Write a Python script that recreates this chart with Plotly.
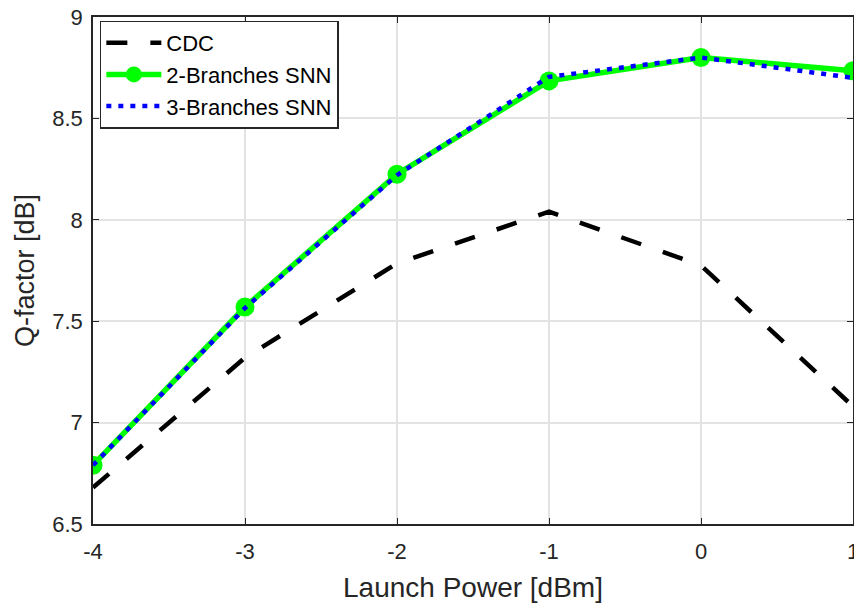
import plotly.graph_objects as go

# Launch power sweep and Q-factor results
launch_power = [-4, -3, -2, -1, 0, 1]
q_cdc = [6.68, 7.32, 7.785, 8.04, 7.775, 7.08]
q_snn2 = [6.79, 7.57, 8.225, 8.685, 8.80, 8.735]
q_snn3 = [6.79, 7.565, 8.22, 8.705, 8.80, 8.70]

x_ticks = [-4, -3, -2, -1, 0, 1]
y_ticks = [6.5, 7, 7.5, 8, 8.5, 9]

FONT = "Liberation Sans, Arial, sans-serif"
TXT = "#262626"

fig = go.Figure()
fig.add_trace(go.Scatter(
    x=launch_power, y=q_cdc, mode="lines", name="CDC",
    line=dict(color="black", width=4.5, dash="21px,23px"),
))
fig.add_trace(go.Scatter(
    x=launch_power, y=q_snn2, mode="lines+markers", name="2-Branches SNN",
    line=dict(color="#00ff00", width=5.5),
    marker=dict(color="#00ff00", size=19, symbol="circle"),
))
fig.add_trace(go.Scatter(
    x=launch_power, y=q_snn3, mode="lines", name="3-Branches SNN",
    line=dict(color="#0000ff", width=4.5, dash="5px,7px"),
))

axis_common = dict(
    showline=True, linecolor=TXT, linewidth=1.5, mirror="ticks",
    ticks="inside", ticklen=6, tickcolor=TXT, tickwidth=1.2,
    showgrid=True, gridcolor="#e3e3e3", gridwidth=1.5,
    zeroline=False, automargin=False,
    tickfont=dict(family=FONT, size=22, color=TXT),
)

fig.update_xaxes(
    range=[-4, 1], tickvals=x_ticks, ticktext=[str(v) for v in x_ticks],
    ticklabeloverflow="allow", ticklabelstandoff=7,
    title=dict(text="Launch Power [dBm]", standoff=14,
               font=dict(family=FONT, size=28, color=TXT)),
    **axis_common,
)
fig.update_yaxes(
    range=[6.5, 9], tickvals=y_ticks, ticktext=["6.5", "7", "7.5", "8", "8.5", "9"],
    ticklabelstandoff=4,
    title=dict(text="Q-factor [dB]", standoff=10,
               font=dict(family=FONT, size=27, color=TXT)),
    **axis_common,
)

fig.update_layout(
    width=854, height=604,
    margin=dict(l=93, r=1, t=17, b=80),
    paper_bgcolor="white", plot_bgcolor="white",
    legend=dict(
        x=0.009, y=0.993, xanchor="left", yanchor="top",
        bgcolor="white", bordercolor=TXT, borderwidth=1.5,
        font=dict(family=FONT, size=22, color="black"),
        tracegroupgap=0, itemwidth=55,
    ),
    showlegend=True,
)

fig.write_html("out.html")
